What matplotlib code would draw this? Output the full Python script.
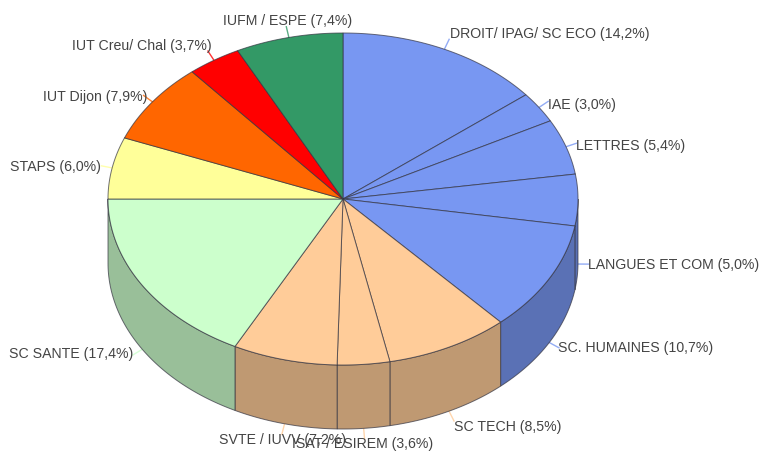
#!/usr/bin/env python3
"""Pseudo-3D pie chart of the share of each faculty."""

import numpy as np
import matplotlib
matplotlib.use("Agg")
import matplotlib.pyplot as plt
from matplotlib.patches import Polygon

plt.rcParams["font.family"] = ["Liberation Sans", "DejaVu Sans"]

categories = [
    "DROIT/ IPAG/ SC ECO", "IAE", "LETTRES", "LANGUES ET COM", "SC. HUMAINES",
    "SC TECH", "ISAT / ESIREM", "SVTE / IUVV", "SC SANTE", "STAPS",
    "IUT Dijon", "IUT Creu/ Chal", "IUFM / ESPE",
]
shares = [14.2, 3.0, 5.4, 5.0, 10.7, 8.5, 3.6, 7.2, 17.4, 6.0, 7.9, 3.7, 7.4]
top_colors = [
    "#7897f2", "#7897f2", "#7897f2", "#7897f2", "#7897f2",
    "#ffcc99", "#ffcc99", "#ffcc99", "#ccffcc", "#ffff99",
    "#ff6600", "#ff0000", "#339966",
]
side_colors = [
    "#5a71b5", "#5a71b5", "#5a71b5", "#5a71b5", "#5a71b5",
    "#bf9972", "#bf9972", "#bf9972", "#99bf99", "#bfbf72",
    "#bf4c00", "#bf0000", "#267349",
]
# label anchors (left edge, vertical centre) in pixels
label_xy = [
    (450, 34), (548, 105), (576, 146), (588, 265), (558, 348),
    (454, 427), (292, 444.5), (219, 440), (9, 354), (10, 167),
    (43, 97), (72, 46), (223, 21),
]

W, H = 761, 452
CX, CY = 343, 200
RX, RY = 235, 166
DEPTH = 64
EDGE = (0.2, 0.2, 0.25, 0.7)


def rim(angle, drop=0):
    # angle in radians, clockwise from the top of the pie
    return CX + RX * np.sin(angle), CY - RY * np.cos(angle) + drop


fig = plt.figure(figsize=(W / 100, H / 100), dpi=100)
ax = fig.add_axes([0, 0, 1, 1])
ax.set_xlim(0, W)
ax.set_ylim(H, 0)
ax.axis("off")

cum = np.concatenate([[0], np.cumsum(shares)]) / sum(shares) * 2 * np.pi

# side wall: only the part of the rim facing the viewer
for i in range(len(shares)):
    a0, a1 = max(cum[i], np.pi / 2), min(cum[i + 1], 3 * np.pi / 2)
    if a0 >= a1:
        continue
    t = np.linspace(a0, a1, 80)
    x, y = rim(t)
    _, y2 = rim(t, DEPTH)
    pts = np.r_[np.c_[x, y], np.c_[x, y2][::-1]]
    ax.add_patch(Polygon(pts, closed=True, fc=side_colors[i], ec=EDGE, lw=0.7, zorder=2))

# top face
for i in range(len(shares)):
    t = np.linspace(cum[i], cum[i + 1], 120)
    x, y = rim(t)
    pts = np.r_[[[CX, CY]], np.c_[x, y]]
    ax.add_patch(Polygon(pts, closed=True, fc=top_colors[i], ec=EDGE, lw=0.7, zorder=3))

# leader lines and labels
for i, name in enumerate(categories):
    mid = (cum[i] + cum[i + 1]) / 2
    front = np.pi / 2 < mid < 3 * np.pi / 2
    x0, y0 = rim(mid, DEPTH if front else 0)
    x1, y1 = x0 + 11 * np.sin(mid), y0 - 11 * np.cos(mid)
    ax.plot([x0, x1], [y0, y1], color=top_colors[i], lw=1, alpha=0.8, zorder=1)
    value = f"{shares[i]:.1f}".replace(".", ",")
    ax.text(label_xy[i][0], label_xy[i][1], f"{name} ({value}%)", ha="left", va="center",
            fontsize=10.15, color="#444444", zorder=5)

fig.savefig("out.png", dpi=100)
